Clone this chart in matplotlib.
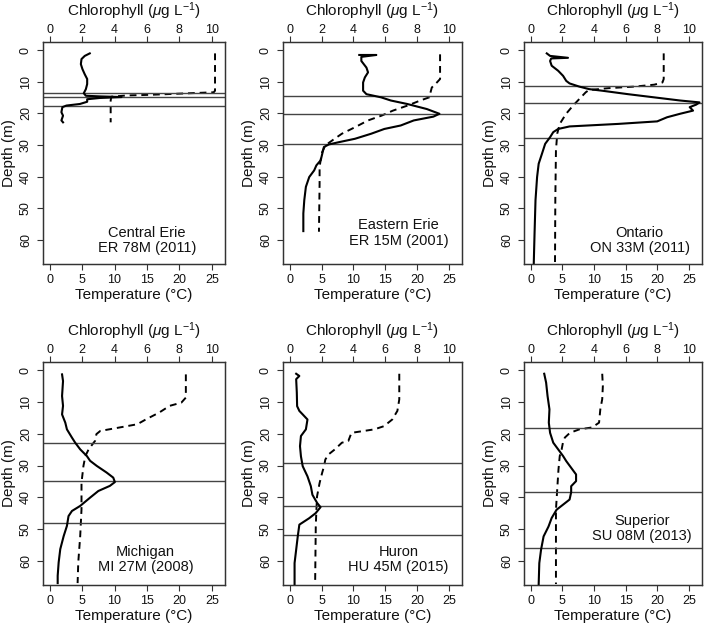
import numpy as np
import matplotlib.pyplot as plt

plt.rcParams['font.family'] = ['Liberation Sans', 'DejaVu Sans']
plt.rcParams['mathtext.fontset'] = 'custom'
plt.rcParams['mathtext.rm'] = 'Liberation Sans'
plt.rcParams['mathtext.it'] = 'Liberation Sans:italic'

# ---- Central Erie ER 78M (2011) ----
ce_chl_depth = [1.0, 1.8, 2.8, 4.4, 6.0, 7.6, 9.1, 10.7, 12.3, 13.6, 14.4, 14.6, 14.8, 15.1, 15.5, 16.3, 17.0, 17.5, 18.0, 19.6, 20.7, 22.2, 22.8]
ce_chl = [2.47, 2.16, 1.96, 1.92, 2.02, 2.16, 2.31, 2.31, 2.23, 2.10, 2.23, 3.09, 4.43, 3.09, 2.31, 2.31, 1.86, 1.03, 0.78, 0.72, 0.82, 0.72, 0.82]
ce_temp_depth = [1.0, 12.8, 13.3, 14.1, 14.3, 14.7, 15.9, 22.8]
ce_temp = [25.5, 25.5, 25.3, 15.5, 11.9, 9.5, 9.4, 9.4]
ce_lines = [13.5, 14.8, 17.6]

# ---- Eastern Erie ER 15M (2001) ----
ee_chl_depth = [1.5, 1.5, 2.1, 3.4, 5.5, 7.0, 8.6, 10.2, 12.8, 13.9, 14.9, 15.9, 17.0, 18.6, 20.1, 21.0, 22.2, 23.8, 24.9, 26.4, 28.0, 29.1, 29.8, 30.6, 32.7, 34.8, 36.4, 38.0, 40.1, 43.2, 47.4, 51.6, 57.2]
ee_chl = [4.37, 5.44, 4.50, 4.50, 4.82, 4.92, 4.72, 4.61, 4.61, 4.82, 5.74, 6.35, 7.38, 8.61, 9.40, 9.02, 7.79, 6.97, 5.94, 5.12, 4.10, 3.07, 2.46, 2.15, 2.05, 1.95, 1.68, 1.54, 1.23, 1.02, 0.92, 0.86, 0.86]
ee_temp_depth = [1.3, 9.1, 10.2, 11.8, 14.9, 15.9, 17.5, 19.1, 20.7, 22.2, 24.3, 26.4, 28.5, 30.1, 32.2, 34.3, 36.9, 42.2, 57.4]
ee_temp = [23.6, 23.6, 23.1, 22.3, 21.9, 20.5, 18.5, 16.2, 14.4, 12.3, 10.3, 8.2, 6.7, 5.6, 5.1, 4.9, 4.7, 4.7, 4.6]
ee_lines = [14.6, 20.1, 29.8]

# ---- Ontario ON 33M (2011) ----
on_chl_depth = [1.0, 1.8, 2.4, 2.6, 3.4, 4.9, 6.5, 8.1, 9.7, 10.5, 11.5, 12.3, 12.8, 13.9, 14.9, 15.9, 16.5, 17.2, 18.0, 19.1, 20.1, 21.2, 22.5, 23.3, 24.1, 24.9, 25.9, 27.5, 29.6, 32.7, 35.9, 40.1, 47.4, 57.9, 67.4]
on_chl = [1.02, 1.23, 2.36, 1.30, 1.23, 1.33, 1.74, 2.05, 2.25, 2.46, 3.07, 3.69, 4.51, 6.15, 7.79, 9.43, 10.66, 10.45, 10.04, 10.25, 9.43, 8.61, 7.99, 5.53, 2.46, 1.74, 1.43, 1.23, 0.92, 0.72, 0.51, 0.41, 0.31, 0.25, 0.20]
on_temp_depth = [1.0, 9.1, 10.2, 10.9, 11.5, 12.0, 12.6, 13.3, 15.4, 17.5, 20.1, 23.3, 26.4, 31.7, 47.4, 67.4]
on_temp = [21.0, 21.0, 20.8, 19.5, 16.4, 12.3, 9.2, 8.7, 7.7, 6.7, 5.6, 4.6, 4.2, 4.0, 3.9, 3.85]
on_lines = [11.2, 16.7, 27.8]

# ---- Michigan MI 27M (2008) ----
mi_chl_depth = [1.3, 3.4, 8.1, 11.2, 13.9, 16.5, 18.6, 21.2, 22.8, 24.9, 27.0, 28.5, 30.1, 32.2, 33.8, 35.2, 36.4, 38.0, 40.1, 42.7, 44.3, 45.9, 49.0, 52.2, 56.3, 60.5, 64.7, 67.0]
mi_chl = [0.76, 0.82, 0.76, 0.82, 0.76, 0.96, 1.06, 1.37, 1.57, 1.88, 2.29, 2.49, 2.90, 3.51, 3.92, 4.02, 3.71, 3.00, 2.49, 1.88, 1.37, 1.16, 1.06, 0.86, 0.65, 0.55, 0.49, 0.49]
mi_temp_depth = [1.3, 8.6, 10.2, 11.2, 13.3, 15.4, 17.0, 18.0, 19.1, 20.1, 22.2, 24.9, 27.0, 30.1, 35.4, 43.8, 52.2, 60.5, 67.0]
mi_temp = [21.0, 21.0, 20.3, 18.5, 16.9, 14.9, 13.5, 10.8, 7.8, 7.2, 7.0, 6.0, 5.5, 5.2, 4.9, 4.9, 4.7, 4.4, 4.3]
mi_lines = [23.0, 34.8, 48.2]

# ---- Huron HU 45M (2015) ----
hu_chl_depth = [1.1, 1.8, 2.8, 7.0, 11.3, 12.8, 13.9, 15.5, 18.6, 20.7, 23.9, 27.1, 30.2, 33.4, 36.5, 39.2, 41.8, 43.1, 45.0, 46.6, 48.6, 52.3, 56.5, 60.7, 67.3]
hu_chl = [0.41, 0.61, 0.41, 0.45, 0.47, 0.61, 0.82, 1.12, 1.02, 0.71, 0.65, 0.71, 0.82, 1.12, 1.33, 1.43, 1.73, 1.94, 1.63, 1.22, 0.61, 0.51, 0.41, 0.31, 0.31]
hu_temp_depth = [1.1, 9.2, 12.8, 15.5, 17.6, 18.6, 19.7, 22.3, 22.8, 24.9, 26.5, 28.1, 30.2, 32.3, 35.5, 39.7, 43.9, 49.2, 67.3]
hu_temp = [17.2, 17.2, 16.9, 16.1, 14.8, 13.3, 9.7, 9.2, 8.2, 7.1, 6.1, 5.6, 5.4, 5.1, 4.7, 4.3, 4.2, 4.1, 4.0]
hu_lines = [29.3, 42.7, 51.9]

# ---- Superior SU 08M (2013) ----
su_chl_depth = [1.1, 3.9, 8.1, 12.3, 16.5, 19.7, 22.8, 24.9, 27.0, 28.6, 30.7, 32.8, 34.9, 36.5, 38.4, 40.7, 42.3, 43.9, 46.5, 49.2, 52.3, 56.5, 60.7, 67.3]
su_chl = [0.86, 0.98, 1.07, 1.19, 1.15, 1.23, 1.43, 1.74, 2.05, 2.25, 2.56, 2.87, 2.87, 2.56, 2.56, 2.46, 2.05, 1.64, 1.33, 1.13, 0.82, 0.66, 0.55, 0.51]
su_temp_depth = [1.1, 4.9, 9.1, 12.3, 16.5, 18.0, 18.6, 19.7, 21.2, 22.8, 24.9, 27.0, 31.2, 37.5, 43.9, 54.4, 67.3]
su_temp = [11.3, 11.4, 11.3, 11.0, 10.8, 9.7, 7.7, 6.2, 5.4, 5.1, 4.9, 4.6, 4.4, 4.2, 4.0, 4.0, 4.0]
su_lines = [18.3, 38.4, 56.0]

panels = [
    (ce_chl_depth, ce_chl, ce_temp_depth, ce_temp, ce_lines, 'Central Erie\nER 78M (2011)', (15.0, 60.3)),
    (ee_chl_depth, ee_chl, ee_temp_depth, ee_temp, ee_lines, 'Eastern Erie\nER 15M (2001)', (17.1, 57.8)),
    (on_chl_depth, on_chl, on_temp_depth, on_temp, on_lines, 'Ontario\nON 33M (2011)', (17.2, 60.2)),
    (mi_chl_depth, mi_chl, mi_temp_depth, mi_temp, mi_lines, 'Michigan\nMI 27M (2008)', (14.8, 59.6)),
    (hu_chl_depth, hu_chl, hu_temp_depth, hu_temp, hu_lines, 'Huron\nHU 45M (2015)', (17.1, 59.6)),
    (su_chl_depth, su_chl, su_temp_depth, su_temp, su_lines, 'Superior\nSU 08M (2013)', (17.6, 49.7)),
]

W, H = 709, 626
col_px = [(43, 182), (283, 179), (524, 178)]   # left, width
row_px = [(42, 222), (362, 223)]               # top, height

TEMP_LIM = (-1.04, 27.04)
CHL_LIM = (TEMP_LIM[0] / 2.5, TEMP_LIM[1] / 2.5)
DEPTH_LIM = (67.6, -2.6)
EDGE = '#333333'


def draw_panel(fig, rect, chl_depth, chl, temp_depth, temp, lines, label, label_pos):
    ax = fig.add_axes(rect)
    ax2 = ax.twiny()

    # temperature on bottom axis (dashed), chlorophyll on top axis (solid)
    ax.plot(temp, temp_depth, color='black', lw=1.4, dashes=(3.5, 2.5))
    ax2.plot(chl, chl_depth, color='black', lw=1.5)
    for d in lines:
        ax.axhline(d, color='#444444', lw=1.0)

    ax.set_xlim(*TEMP_LIM)
    ax2.set_xlim(*CHL_LIM)
    ax.set_ylim(*DEPTH_LIM)

    ax.set_xticks([0, 5, 10, 15, 20, 25])
    ax2.set_xticks([0, 2, 4, 6, 8, 10])
    ax.set_yticks([0, 10, 20, 30, 40, 50, 60])

    for a in (ax, ax2):
        for s in a.spines.values():
            s.set_color(EDGE)
            s.set_linewidth(0.9)
        a.tick_params(direction='out', length=4, width=0.8, color=EDGE, labelsize=9, labelcolor='#111111')
    ax.tick_params(axis='x', pad=3)
    ax2.tick_params(axis='x', pad=0.5)
    ax.tick_params(axis='y', pad=4, labelrotation=90)
    for t in ax.get_yticklabels():
        t.set_va('center')

    ax.set_xlabel('Temperature (°C)', fontsize=11, labelpad=1.5, color='#111111')
    ax2.set_xlabel(r'Chlorophyll ($\mu$g L$^{-1}$)', fontsize=11, labelpad=5.5, color='#111111')
    ax.set_ylabel('Depth (m)', fontsize=11, labelpad=2.5, color='#111111')

    ax.text(label_pos[0], label_pos[1], label, ha='center', va='center',
            fontsize=10.5, linespacing=1.1, color='#111111')


fig = plt.figure(figsize=(W / 100, H / 100), dpi=100)

for i, p in enumerate(panels):
    r, c = divmod(i, 3)
    left, width = col_px[c]
    top, height = row_px[r]
    rect = [left / W, 1 - (top + height) / H, width / W, height / H]
    draw_panel(fig, rect, *p)

fig.savefig('out.png', dpi=100)
